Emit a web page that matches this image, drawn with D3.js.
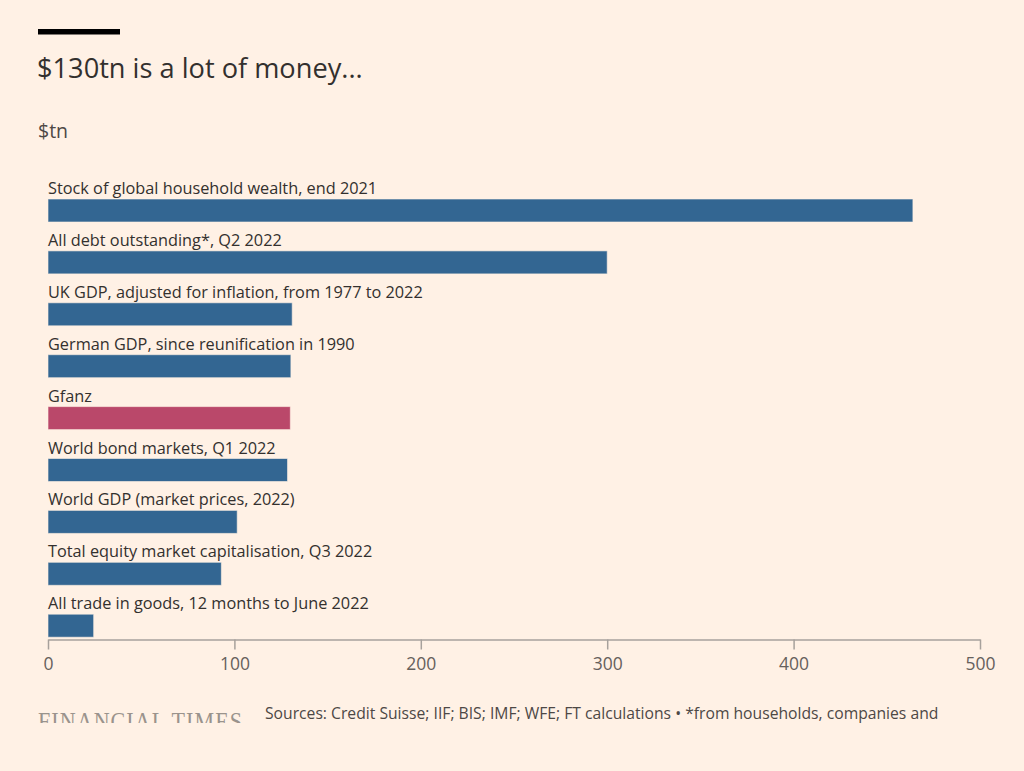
<!DOCTYPE html>
<html>
<head>
<meta charset="utf-8">
<script src="https://cdn.jsdelivr.net/npm/d3@7"></script>
<style>
  html, body { margin: 0; padding: 0; background: #fff1e5; }
  svg { display: block; font-family: "Open Sans", "Noto Sans", sans-serif; }
</style>
</head>
<body>
<div id="chart"></div>
<script>
// categorías y valores ($tn)
const categories = [
  "Stock of global household wealth, end 2021",
  "All debt outstanding*, Q2 2022",
  "UK GDP, adjusted for inflation, from 1977 to 2022",
  "German GDP, since reunification in 1990",
  "Gfanz",
  "World bond markets, Q1 2022",
  "World GDP (market prices, 2022)",
  "Total equity market capitalisation, Q3 2022",
  "All trade in goods, 12 months to June 2022"
];
const values = [464, 300, 131, 130.3, 130, 128.5, 101.5, 93, 24.5];
const highlight = ["Gfanz"];
const xTicks = [0, 100, 200, 300, 400, 500];

const W = 1024, H = 771;
const BLUE = "#336692", PINK = "#ba486a";

const svg = d3.select("#chart").append("svg")
  .attr("width", W).attr("height", H);

svg.append("rect").attr("width", W).attr("height", H).attr("fill", "#fff1e5");

// raya negra de cabecera + título
svg.append("rect").attr("x", 38).attr("y", 29).attr("width", 82).attr("height", 5.5).attr("fill", "#000");
svg.append("text").attr("x", 37).attr("y", 78)
  .attr("font-size", 27.2).attr("fill", "#33302e")
  .text("$130tn is a lot of money...");
svg.append("text").attr("x", 38).attr("y", 138)
  .attr("font-size", 19.5).attr("fill", "#4d4845")
  .text("$tn");

const x = d3.scaleLinear().domain([0, 500]).range([48, 980]);
const y = d3.scaleBand().domain(categories).range([171, 638.1]);
const BAR_OFF = 28, BAR_H = 23;

const rows = svg.append("g").selectAll("g")
  .data(categories.map((c, i) => ({ c, v: values[i] })))
  .join("g");

rows.append("text")
  .attr("x", 48).attr("y", d => y(d.c) + 23)
  .attr("font-size", 16.3).attr("fill", "#33302e")
  .text(d => d.c);

rows.append("rect")
  .attr("x", x(0)).attr("y", d => y(d.c) + BAR_OFF)
  .attr("width", d => x(d.v) - x(0)).attr("height", BAR_H)
  .attr("fill", d => highlight.includes(d.c) ? PINK : BLUE)
  .attr("stroke", "#fff1e5").attr("stroke-opacity", 0.6).attr("stroke-width", 1);

// eje x
const axis = svg.append("g").attr("transform", `translate(0,639.5)`)
  .call(d3.axisBottom(x).tickValues(xTicks).tickSize(10).tickPadding(8).tickSizeOuter(0));
axis.select(".domain").attr("stroke", "#a7a19c").attr("stroke-width", 1.5);
axis.selectAll(".tick line").attr("stroke", "#a7a19c").attr("stroke-width", 1.5);
axis.selectAll(".tick text").attr("font-size", 17.5).attr("fill", "#66605c")
  .attr("font-family", "'Open Sans', 'Noto Sans', sans-serif");

// pie: logo recortado + fuentes
svg.append("clipPath").attr("id", "logoClip")
  .append("rect").attr("x", 0).attr("y", 700).attr("width", 260).attr("height", 23);
svg.append("text").attr("clip-path", "url(#logoClip)")
  .attr("x", 38).attr("y", 730)
  .attr("font-family", "'Liberation Serif', 'DejaVu Serif', serif")
  .attr("font-size", 25).attr("letter-spacing", 1.2).attr("fill", "#9a938c")
  .attr("textLength", 205).attr("lengthAdjust", "spacingAndGlyphs")
  .text("FINANCIAL TIMES");
svg.append("text").attr("x", 265).attr("y", 719)
  .attr("font-size", 15.7).attr("fill", "#4d4845")
  .text("Sources: Credit Suisse; IIF; BIS; IMF; WFE; FT calculations • *from households, companies and");
</script>
</body>
</html>
